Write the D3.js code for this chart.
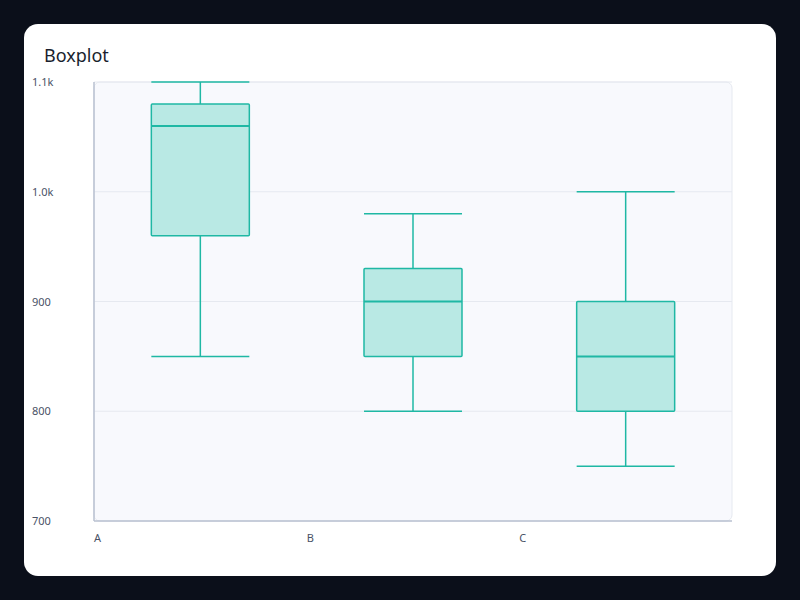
<!DOCTYPE html>
<html>
<head>
<meta charset="utf-8">
<script src="https://cdn.jsdelivr.net/npm/d3@7"></script>
<style>
  body { margin: 0; background: #0b0f1a; }
</style>
</head>
<body>
<svg id="chart" width="800" height="600"></svg>
<script>
// data
var categories = ["A", "B", "C"];
var mins    = [850, 800, 750];
var q1s     = [960, 850, 800];
var medians = [1060, 900, 850];
var q3s     = [1080, 930, 900];
var maxs    = [1100, 980, 1000];
var yTicks  = [700, 800, 900, 1000, 1100];

var svg = d3.select("#chart");
var plotLeft = 94, plotRight = 732, plotTop = 82, plotBottom = 521;

// card
svg.append("rect").attr("x", 24).attr("y", 24).attr("width", 752).attr("height", 552)
    .attr("rx", 14).attr("fill", "#ffffff");

svg.append("text").attr("x", 44).attr("y", 62).text("Boxplot")
    .attr("font-family", "Noto Sans").attr("font-size", 18).attr("fill", "#1a1f2e");

var x = d3.scaleBand().domain(categories).range([plotLeft, plotRight]);
var y = d3.scaleLinear().domain([700, 1100]).range([plotBottom, plotTop]);

// plot background
svg.append("rect").attr("x", plotLeft).attr("y", plotTop)
    .attr("width", plotRight - plotLeft).attr("height", plotBottom - plotTop)
    .attr("rx", 6).attr("fill", "#f8f9fd").attr("stroke", "#e6e9f0");

// grid
svg.selectAll(".grid").data(yTicks.slice(1)).enter().append("line")
    .attr("x1", plotLeft).attr("x2", plotRight)
    .attr("y1", function (d) { return y(d); }).attr("y2", function (d) { return y(d); })
    .attr("stroke", "#e6e9f0");

// axes lines
svg.append("line").attr("x1", plotLeft).attr("x2", plotLeft).attr("y1", plotTop).attr("y2", plotBottom)
    .attr("stroke", "#b8c0d0").attr("stroke-width", 1.5);
svg.append("line").attr("x1", plotLeft).attr("x2", plotRight).attr("y1", plotBottom).attr("y2", plotBottom)
    .attr("stroke", "#b8c0d0").attr("stroke-width", 1.5);

// tick labels
var fmt = function (d) { return d >= 1000 ? (d / 1000).toFixed(1) + "k" : d; };
svg.selectAll(".yl").data(yTicks).enter().append("text")
    .attr("x", 32).attr("y", function (d) { return y(d) + 4; })
    .text(fmt).attr("font-family", "Noto Sans").attr("font-size", 11).attr("fill", "#4a5266");
svg.selectAll(".xl").data(categories).enter().append("text")
    .attr("x", function (d) { return x(d); }).attr("y", 542)
    .text(function (d) { return d; })
    .attr("font-family", "Noto Sans").attr("font-size", 11).attr("fill", "#4a5266");

// boxes
var bw = 98, col = "#1fb8a4";
categories.forEach(function (c, i) {
    var cx = x(c) + x.bandwidth() / 2;
    var g = svg.append("g").attr("stroke", col).attr("stroke-width", 1.5);
    g.append("line").attr("x1", cx).attr("x2", cx).attr("y1", y(maxs[i])).attr("y2", y(q3s[i]));
    g.append("line").attr("x1", cx).attr("x2", cx).attr("y1", y(q1s[i])).attr("y2", y(mins[i]));
    g.append("line").attr("x1", cx - bw / 2).attr("x2", cx + bw / 2).attr("y1", y(maxs[i])).attr("y2", y(maxs[i]));
    g.append("line").attr("x1", cx - bw / 2).attr("x2", cx + bw / 2).attr("y1", y(mins[i])).attr("y2", y(mins[i]));
    g.append("rect").attr("x", cx - bw / 2).attr("width", bw)
        .attr("y", y(q3s[i])).attr("height", y(q1s[i]) - y(q3s[i]))
        .attr("fill", "#b9e9e4").attr("rx", 1);
    g.append("line").attr("x1", cx - bw / 2).attr("x2", cx + bw / 2)
        .attr("y1", y(medians[i])).attr("y2", y(medians[i])).attr("stroke-width", 2);
});
</script>
</body>
</html>
